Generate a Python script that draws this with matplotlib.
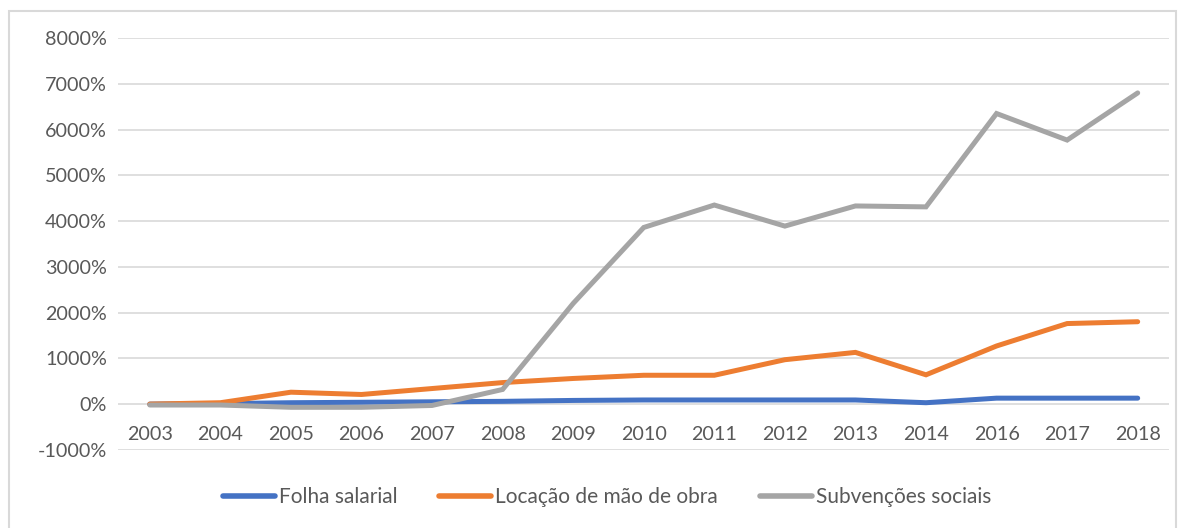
import matplotlib.pyplot as plt
from matplotlib.patches import Rectangle
from matplotlib.ticker import FuncFormatter

# Data
years = ['2003', '2004', '2005', '2006', '2007', '2008', '2009', '2010',
         '2011', '2012', '2013', '2014', '2016', '2017', '2018']
folha = [0, 10, 30, 40, 50, 60, 80, 90, 90, 90, 90, 30, 130, 130, 130]
locacao = [0, 30, 260, 210, 340, 470, 560, 630, 630, 970, 1130, 640, 1270, 1760, 1800]
subvencoes = [-20, -20, -70, -70, -30, 320, 2200, 3860, 4350, 3890, 4330, 4310, 6350, 5770, 6800]

series = [
    ('Folha salarial', folha, '#4472C4'),
    ('Locação de mão de obra', locacao, '#ED7D31'),
    ('Subvenções sociais', subvencoes, '#A5A5A5'),
]

plt.rcParams['font.family'] = 'Lato'
text_color = '#595959'

fig = plt.figure(figsize=(11.84, 5.28), dpi=100)
ax = fig.add_axes([0.0997, 0.148, 0.888, 0.780])

# outer chart border
fig.patches.append(Rectangle((9 / 1184, -0.05), (1176 - 9) / 1184, 1.05 - 11 / 528,
                             transform=fig.transFigure, fill=False,
                             edgecolor='#D9D9D9', linewidth=1.5))

x = range(len(years))
for name, vals, color in series:
    ax.plot(x, vals, color=color, linewidth=3.6, label=name,
            solid_capstyle='round', solid_joinstyle='miter')

ax.set_xlim(-0.45, len(years) - 0.55)
ax.set_ylim(-1000, 8000)
ax.set_yticks(range(-1000, 8001, 1000))
ax.yaxis.set_major_formatter(FuncFormatter(lambda v, p: f'{int(v)}%'))
ax.grid(axis='y', color='#D9D9D9', linewidth=1.2)
ax.set_axisbelow(True)

for s in ax.spines.values():
    s.set_visible(False)
ax.spines['bottom'].set_position(('data', 0))

ax.set_xticks(list(x))
ax.set_xticklabels(years)
ax.tick_params(axis='x', length=0, pad=16, labelsize=14.2, labelcolor=text_color)
ax.tick_params(axis='y', length=0, pad=8, labelsize=14.2, labelcolor=text_color)

leg = ax.legend(loc='center', bbox_to_anchor=(0.465, -0.114), ncol=3,
                frameon=False, fontsize=15, handlelength=2.5,
                handletextpad=0.2, columnspacing=2.0, labelcolor=text_color)
for line in leg.get_lines():
    line.set_linewidth(4)

fig.savefig('out.png', dpi=100, facecolor='white')
